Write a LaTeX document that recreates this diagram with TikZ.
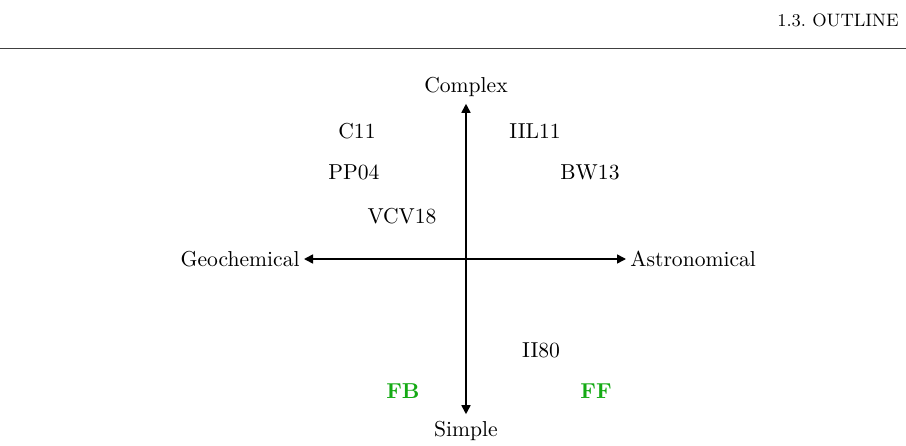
\documentclass[tikz,border=0pt]{standalone}
\usepackage{tikz}
\usetikzlibrary{arrows.meta}
\definecolor{modelgreen}{RGB}{20,170,20}

\begin{document}
\begin{tikzpicture}[x=0.5pt, y=-0.5pt, >={Triangle[length=4.5pt,width=4.5pt]},
  every node/.style={font=\fontsize{10.8}{13}\selectfont}]

\useasboundingbox (0,0) rectangle (906,445);

% running head
\node [anchor=base east, font=\small, inner sep=0pt] (head) at (899,26) {1.3.\ OUTLINE};
\draw [line width=0.5pt, black!75] (0,48) -- (906,48);

% axes
\coordinate (origin) at (466,259);
\node (complex) at (466,87) {Complex};
\node (simple) at (466,431) {Simple};
\node [anchor=east, inner sep=2pt] (geo) at (304,259) {Geochemical};
\node [anchor=west, inner sep=2pt] (astro) at (626,259) {Astronomical};

\foreach \t in {complex, simple, geo, astro}
  \draw [->, line width=0.8pt] (origin) -- (\t);

% papers
\foreach \l/\x/\y in {C11/357/131, IIL11/535/131, PP04/354/172,
                      BW13/590/172, VCV18/402/216, II80/541/350}
  \node (paper-\l) at (\x,\y) {\l};

% this work
\foreach \l/\x in {FB/403, FF/596}
  \node [font=\fontsize{10.8}{13}\selectfont\bfseries, text=modelgreen] (model-\l) at (\x,391) {\l};

\end{tikzpicture}
\end{document}
